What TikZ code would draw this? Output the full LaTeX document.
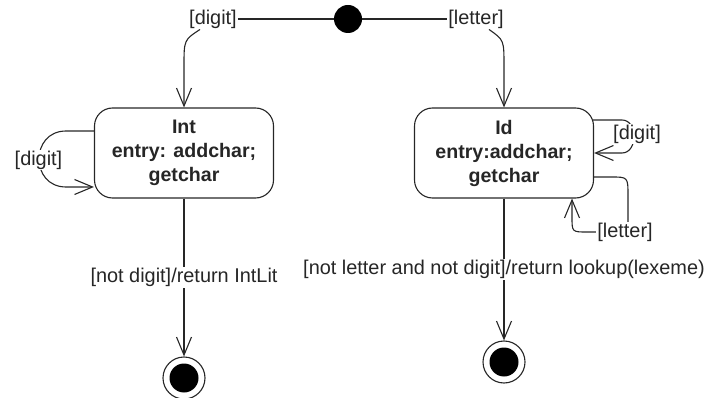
\documentclass[tikz,border=0pt]{standalone}
\usepackage{fontspec}
\setmainfont{Liberation Sans}
\usetikzlibrary{arrows.meta}
\begin{document}
\begin{tikzpicture}[x=1pt,y=-1pt,
  every node/.style={font=\fontsize{19.9}{24}\selectfont, text=black!85},
  state/.style={draw=black!85, line width=1.1pt, rounded corners=18pt,
    minimum width=179pt, minimum height=90pt, align=center, inner sep=0pt,
    font=\fontsize{19.6}{24}\selectfont\bfseries},
  guard/.style={fill=white, inner sep=1pt},
  wire/.style={draw=black!85, line width=1.1pt},
  trans/.style={wire, -{Straight Barb[length=18pt,width=15pt]}},
  initstate/.style={circle, fill=black, minimum size=28pt, inner sep=0pt},
  finalring/.style={circle, draw=black!85, line width=1.1pt, minimum size=42pt, inner sep=0pt},
  finaldot/.style={circle, fill=black, minimum size=29pt, inner sep=0pt}
]
\useasboundingbox (0,0) rectangle (704,398);

% states
\node[initstate] (init) at (348,19) {};
\node[state] (int) at (184,153) {Int\\entry: addchar;\\getchar};
\node[state] (id) at (504,153) {Id\\entry:addchar;\\getchar};
\node[finalring] (f1) at (184,378) {};
\node[finaldot] (f1in) at (f1) {};
\node[finalring] (f2) at (504,362) {};
\node[finaldot] (f2in) at (f2) {};

% initial branches
\node[guard] (gd) at (213,19) {[digit]};
\node[guard] (gl) at (476,19) {[letter]};
\draw[wire] (init.west) -- (gd.east);
\draw[wire] (init.east) -- (gl.west);
\draw[trans] ([xshift=-13pt]gd.south) .. controls (184,40) .. (184,66) -- (int.north);
\draw[trans] ([xshift=13pt]gl.south) .. controls (504,40) .. (504,66) -- (id.north);

% self loops
\draw[trans] ([yshift=22pt]int.west) -- (66,131) .. controls (30,131) and (30,187) .. (66,187) -- ([yshift=-34pt]int.west);
\node[guard] (ldig) at (38.5,160) {[digit]};

\draw[trans] ([xshift=-1pt,yshift=33pt]id.east) -- (622,120) .. controls (638,120) and (638,153) .. (622,153) -- (id.east);
\node[guard] (idig) at (637,134) {[digit]};

\draw[trans] ([yshift=-24pt]id.east) -- (611,177) .. controls (628,177) .. (628,196) -- (628,222)
  .. controls (628,232) .. (618,232) -- (587,232) .. controls (572,232) .. (572,217) -- ([xshift=68pt]id.south);
\node[guard] (ilet) at (625,232) {[letter]};

% exits
\draw[trans] (int.south) -- node[guard] (xint) {[not digit]/return IntLit} (f1.north);
\draw[trans] (id.south) -- node[guard] (xid) {[not letter and not digit]/return lookup(lexeme)} (f2.north);
\end{tikzpicture}
\end{document}
